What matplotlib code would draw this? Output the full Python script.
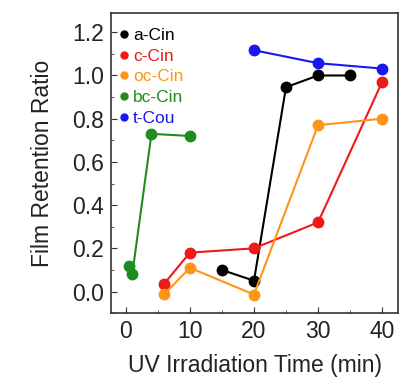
import matplotlib.pyplot as plt
from matplotlib.ticker import MultipleLocator

plt.rcParams['font.family'] = ['Liberation Sans', 'DejaVu Sans']

# data
a_x = [15, 20, 25, 30, 35]
a_y = [0.10, 0.05, 0.946, 1.00, 1.00]
c_x = [6, 10, 20, 30, 40]
c_y = [0.037, 0.18, 0.20, 0.32, 0.97]
oc_x = [6, 10, 20, 30, 40]
oc_y = [-0.012, 0.11, -0.014, 0.77, 0.80]
bc_x = [0.5, 1, 4, 10]
bc_y = [0.117, 0.08, 0.73, 0.72]
t_x = [20, 30, 40]
t_y = [1.117, 1.057, 1.032]

series = [
    (a_x, a_y, 'black', 'a-Cin'),
    (c_x, c_y, '#f01818', 'c-Cin'),
    (oc_x, oc_y, '#ff9418', 'oc-Cin'),
    (bc_x, bc_y, '#1e8c1e', 'bc-Cin'),
    (t_x, t_y, '#1818f0', 't-Cou'),
]

fig = plt.figure(figsize=(4.10, 3.89), dpi=100)
ax = fig.add_axes([0.271, 0.195, 0.70, 0.772])

for x, y, col, lab in series:
    ax.plot(x, y, '-', color=col, lw=1.5)
    ax.plot(x, y, 'o', color=col, ms=7.5)
    ax.plot([], [], 'o', color=col, ms=5, label=lab)

ax.set_xlim(-2.3, 42.5)
ax.set_ylim(-0.1, 1.29)
ax.xaxis.set_major_locator(MultipleLocator(10))
ax.xaxis.set_minor_locator(MultipleLocator(5))
ax.yaxis.set_major_locator(MultipleLocator(0.2))
ax.yaxis.set_minor_locator(MultipleLocator(0.1))
ax.yaxis.set_major_formatter(plt.FormatStrFormatter('%.1f'))
ax.tick_params(which='both', direction='in', labelsize=16.5, color='#333333',
               labelcolor='#222222')
ax.tick_params(which='major', length=4, pad=5)
ax.tick_params(which='minor', length=2.5)
for s in ax.spines.values():
    s.set_color('#333333')
    s.set_linewidth(1.2)

ax.set_xlabel('UV Irradiation Time (min)', fontsize=16.5, color='#222222', labelpad=8)
ax.set_ylabel('Film Retention Ratio', fontsize=16.5, color='#222222', labelpad=13)

leg = ax.legend(loc='upper left', bbox_to_anchor=(0.0, 0.97), frameon=False,
                fontsize=12.5, handletextpad=0.1, handlelength=0.8,
                labelspacing=0.32, borderaxespad=0.1, borderpad=0.25)
for t, (_, _, col, _) in zip(leg.get_texts(), series):
    t.set_color(col)

fig.savefig('out.png', dpi=100)
